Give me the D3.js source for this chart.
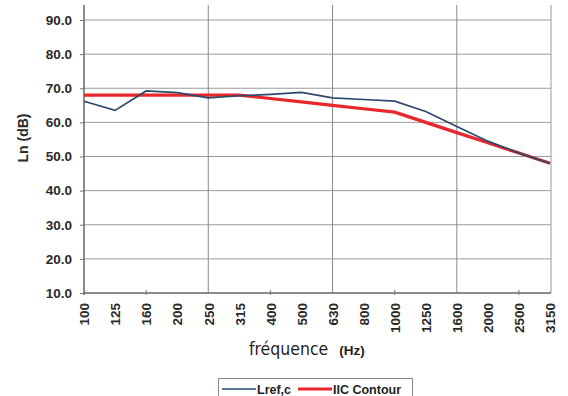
<!DOCTYPE html>
<html>
<head>
<meta charset="utf-8">
<script src="https://cdn.jsdelivr.net/npm/d3@7"></script>
<style>
  body { margin: 0; background: #fff; }
  svg { display: block; }
</style>
</head>
<body>
<svg id="chart" width="568" height="396"></svg>
<script>
// frequency bands (Hz)
var freqs = ["100","125","160","200","250","315","400","500","630","800","1000","1250","1600","2000","2500","3150"];
// measured curve
var lrefValues = [66.2, 63.5, 69.2, 68.7, 67.2, 67.8, 68.2, 68.8, 67.2, 66.7, 66.2, 63.2, 58.8, 54.5, 51.0, 48.0];
// shifted reference contour
var iicValues = [68, 68, 68, 68, 68, 68, 67, 66, 65, 64, 63, 60, 57, 54, 51, 48];
var yTicks = [10, 20, 30, 40, 50, 60, 70, 80, 90];
var gridFreqs = ["250", "630", "1600"];
var minorFreqs = ["160", "400", "1000", "2500"];

var svg = d3.select('#chart');
var padL = 84, padR = 551, padT = 20, padB = 293, plotTop = 5;

var x = d3.scalePoint().domain(freqs).range([padL, 550]);
var y = d3.scaleLinear().domain([10, 90]).range([padB, padT]);

var bold = 'Liberation Sans, Arial, sans-serif';

// horizontal gridlines
svg.append('g').selectAll('line')
    .data(yTicks.slice(1))
    .enter().append('line')
    .attr('x1', padL).attr('x2', padR)
    .attr('y1', function(d) { return y(d); })
    .attr('y2', function(d) { return y(d); })
    .attr('stroke', '#9c9c9c')
    .attr('stroke-width', 1);

// vertical gridlines
svg.append('g').selectAll('line')
    .data(gridFreqs)
    .enter().append('line')
    .attr('x1', function(d) { return x(d); })
    .attr('x2', function(d) { return x(d); })
    .attr('y1', plotTop).attr('y2', padB)
    .attr('stroke', '#8a8a8a')
    .attr('stroke-width', 1);

// right border
svg.append('line')
    .attr('x1', padR).attr('x2', padR)
    .attr('y1', plotTop).attr('y2', padB)
    .attr('stroke', '#9a9a9a');

// y axis
var yAxis = d3.axisLeft(y)
    .tickValues(yTicks)
    .tickSize(4)
    .tickPadding(8)
    .tickFormat(d3.format('.1f'));
var gy = svg.append('g')
    .attr('transform', 'translate(' + padL + ',0)')
    .call(yAxis);
gy.select('.domain').remove();
gy.selectAll('.tick line').attr('stroke', '#777');
gy.selectAll('.tick text')
    .attr('font-family', bold)
    .attr('font-weight', 'bold')
    .attr('font-size', 13.5)
    .attr('fill', '#2a2a2a');
gy.append('line')
    .attr('x1', 0).attr('x2', 0)
    .attr('y1', plotTop).attr('y2', padB + 2)
    .attr('stroke', '#666')
    .attr('stroke-width', 1.5);

// x axis
var xAxis = d3.axisBottom(x).tickSize(0).tickPadding(10);
var gx = svg.append('g')
    .attr('transform', 'translate(0,' + padB + ')')
    .call(xAxis);
gx.select('.domain').remove();
gx.selectAll('.tick text')
    .attr('font-family', bold)
    .attr('font-weight', 'bold')
    .attr('font-size', 13.5)
    .attr('fill', '#2a2a2a')
    .attr('text-anchor', 'end')
    .attr('dy', '0.35em')
    .attr('transform', 'rotate(-90)')
    .attr('x', -10)
    .attr('y', 0);
gx.append('line')
    .attr('x1', padL).attr('x2', padR)
    .attr('y1', 0).attr('y2', 0)
    .attr('stroke', '#666')
    .attr('stroke-width', 1.5);
gx.selectAll('.minor')
    .data(minorFreqs)
    .enter().append('line')
    .attr('x1', function(d) { return x(d); })
    .attr('x2', function(d) { return x(d); })
    .attr('y1', -3).attr('y2', 2)
    .attr('stroke', '#777');

// lines
var line = d3.line()
    .x(function(d, i) { return x(freqs[i]); })
    .y(function(d) { return y(d); });

svg.append('path')
    .datum(iicValues)
    .attr('d', line)
    .attr('fill', 'none')
    .attr('stroke', '#e8262b')
    .attr('stroke-width', 3.2);

svg.append('path')
    .datum(lrefValues)
    .attr('d', line)
    .attr('fill', 'none')
    .attr('stroke', '#2b4a6c')
    .attr('stroke-width', 1.7);

// axis titles
svg.append('text')
    .attr('transform', 'translate(28,138) rotate(-90)')
    .attr('text-anchor', 'middle')
    .attr('font-family', bold)
    .attr('font-weight', 'bold')
    .attr('font-size', 14)
    .attr('fill', '#2a2a2a')
    .text('Ln (dB)');

var xt = svg.append('text')
    .attr('x', 249).attr('y', 355)
    .attr('fill', '#1e1e1e');
xt.append('tspan')
    .attr('font-family', 'Liberation Sans Narrow, DejaVu Sans Condensed, sans-serif')
    .attr('font-size', 17.5)
    .text('fréquence');
xt.append('tspan')
    .attr('dx', 11)
    .attr('font-family', bold)
    .attr('font-weight', 'bold')
    .attr('font-size', 13.5)
    .text('(Hz)');

// legend
var lg = svg.append('g');
lg.append('rect')
    .attr('x', 218.5).attr('y', 378.5)
    .attr('width', 194).attr('height', 22)
    .attr('fill', '#fff')
    .attr('stroke', '#8a8a8a');
var items = [
  { name: 'Lref,c', color: '#2b4a6c', w: 1.7, x0: 222 },
  { name: 'IIC Contour', color: '#e8262b', w: 3.2, x0: 298 }
];
lg.selectAll('line.item')
    .data(items)
    .enter().append('line')
    .attr('x1', function(d) { return d.x0; })
    .attr('x2', function(d) { return d.x0 + 34; })
    .attr('y1', 389).attr('y2', 389)
    .attr('stroke', function(d) { return d.color; })
    .attr('stroke-width', function(d) { return d.w; });
lg.selectAll('text.item')
    .data(items)
    .enter().append('text')
    .attr('x', function(d) { return d.x0 + 35; })
    .attr('y', 393.5)
    .attr('font-family', bold)
    .attr('font-weight', 'bold')
    .attr('font-size', 12.5)
    .attr('fill', '#1e1e1e')
    .text(function(d) { return d.name; });
</script>
</body>
</html>
